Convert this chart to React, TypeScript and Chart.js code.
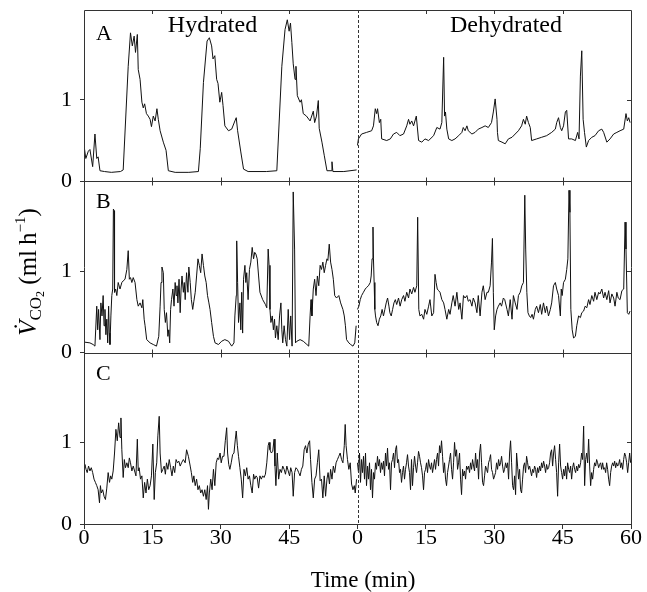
import { useEffect, useRef } from 'react';
import { Chart, registerables } from 'chart.js';

Chart.register(...registerables);

// ---------- labels / ticks ----------
const X_TICK_VALUES = [0, 15, 30, 45, 60, 75, 90, 105, 120];
const X_TICK_LABELS = ['0', '15', '30', '45', '0', '15', '30', '45', '60'];
const Y_TICKS = [0, 1];
const Y_MAX = 2.1;
const DEHYDRATED_OFFSET = 60; // dehydrated record starts at 60 on the shared axis
const PANEL_LETTERS = ['A', 'B', 'C'];
const CONDITION_LABELS = ['Hydrated', 'Dehydrated'];
const X_TITLE = 'Time (min)';

// ---------- data: [time (min), VCO2 (ml h-1)] ----------
const A_HYDRATED: [number, number][] = [
  [0, 0.44], [0.4, 0.28], [0.95, 0.37], [1.3, 0.39], [1.9, 0.18], [2.4, 0.58], [2.8, 0.28], [3.1, 0.3], [3.5, 0.13],
  [4.5, 0.12], [6, 0.11], [8, 0.12], [8.6, 0.14], [9.7, 1.41], [10.2, 1.82], [10.6, 1.66], [11.0, 1.78], [11.3, 1.58],
  [11.7, 1.8], [11.9, 1.37], [12.3, 1.25], [12.7, 0.97], [13.0, 0.9], [13.3, 0.95], [13.7, 0.83], [14.1, 0.8],
  [14.5, 0.76], [14.8, 0.67], [15.2, 0.8], [15.6, 0.74], [16.0, 0.89], [16.3, 0.76], [16.7, 0.62], [17.4, 0.48],
  [18.0, 0.38], [18.5, 0.13], [20, 0.11], [23, 0.11], [25.1, 0.12], [25.5, 0.4], [26.2, 1.21], [27.0, 1.72],
  [27.5, 1.76], [28.0, 1.66], [28.3, 1.5], [28.7, 1.54], [29.1, 1.25], [29.4, 1.2], [29.8, 0.97], [30.2, 1.09],
  [30.5, 0.93], [30.9, 0.68], [31.7, 0.62], [32.4, 0.64], [33.1, 0.74], [33.4, 0.78], [33.7, 0.62], [34.4, 0.36],
  [35.0, 0.15], [36, 0.12], [40, 0.12], [42.3, 0.13], [43.4, 1.41], [44.1, 1.86], [44.6, 1.98], [45.0, 1.84],
  [45.3, 1.94], [45.6, 1.7], [45.9, 1.44], [46.3, 1.25], [46.5, 1.41], [46.8, 1.05], [47.4, 0.97], [47.7, 1.0],
  [48.1, 0.83], [48.8, 0.8], [49.6, 0.74], [50.3, 0.86], [50.6, 0.72], [51.0, 0.8], [51.4, 0.99], [51.6, 0.65],
  [52.2, 0.48], [52.7, 0.32], [53.3, 0.13], [54.2, 0.13], [54.4, 0.24], [54.6, 0.12], [57, 0.12], [59.8, 0.14],
];

const A_DEHYDRATED: [number, number][] = [
  [0.0, 0.44], [0.2, 0.52], [0.9, 0.58], [2.0, 0.6], [3.1, 0.62], [3.5, 0.68], [3.9, 0.89], [4.2, 0.83], [4.4, 0.89],
  [4.8, 0.72], [5.1, 0.76], [5.3, 0.52], [6.4, 0.5], [7.2, 0.52], [7.9, 0.58], [8.6, 0.6], [9.3, 0.56], [10.1, 0.58],
  [10.8, 0.68], [11.2, 0.76], [11.5, 0.7], [11.9, 0.74], [12.3, 0.68], [12.9, 0.8], [13.4, 0.5], [14.1, 0.48],
  [14.8, 0.52], [15.6, 0.5], [16.7, 0.56], [17.4, 0.66], [18.1, 0.64], [18.5, 0.72], [18.9, 1.52], [19.1, 0.8],
  [19.3, 0.85], [19.6, 0.64], [20.0, 0.52], [20.7, 0.5], [21.4, 0.52], [22.2, 0.56], [22.9, 0.6], [23.2, 0.66],
  [23.6, 0.62], [24.0, 0.68], [24.3, 0.62], [25.1, 0.58], [25.8, 0.6], [26.5, 0.64], [27.3, 0.66], [28.0, 0.68],
  [28.7, 0.66], [29.4, 0.72], [29.8, 0.85], [30.2, 1.01], [30.6, 0.76], [30.7, 0.6], [30.9, 0.5], [31.7, 0.48],
  [32.4, 0.46], [33.1, 0.52], [33.9, 0.54], [34.6, 0.58], [35.3, 0.62], [36.0, 0.68], [36.4, 0.76], [36.8, 0.7],
  [37.1, 0.8], [37.5, 0.72], [37.9, 0.66], [38.2, 0.5], [39.3, 0.52], [40.4, 0.54], [41.5, 0.56], [42.6, 0.6],
  [43.4, 0.64], [43.7, 0.72], [44.1, 0.78], [44.5, 0.66], [44.8, 0.62], [45.2, 0.68], [45.6, 0.85], [45.9, 0.87],
  [46.3, 0.52], [47.0, 0.52], [47.8, 0.5], [48.3, 0.6], [48.6, 0.52], [48.9, 1.29], [49.2, 1.6], [49.5, 0.76],
  [49.8, 0.6], [50.2, 0.42], [50.7, 0.5], [51.4, 0.54], [52.1, 0.56], [52.9, 0.62], [53.6, 0.64], [54.0, 0.6],
  [54.7, 0.48], [55.4, 0.52], [56.2, 0.58], [56.9, 0.6], [57.6, 0.62], [58.4, 0.64], [58.9, 0.83], [59.2, 0.74],
  [59.5, 0.78], [59.8, 0.72],
];

const B_HYDRATED: [number, number][] = [
  [0, 0.13], [1.3, 0.12], [2.0, 0.1], [2.4, 0.08], [2.8, 0.57], [3.0, 0.28], [3.2, 0.53], [3.5, 0.16], [3.7, 0.61],
  [3.95, 0.45], [4.2, 0.7], [4.4, 0.33], [4.6, 0.53], [4.8, 0.22], [5.0, 0.41], [5.2, 0.12], [5.4, 0.57], [5.55, 0.24],
  [5.7, 0.1], [5.9, 0.45], [6.1, 0.7], [6.3, 0.78], [6.45, 1.76], [6.6, 1.74], [6.7, 0.74], [6.95, 0.78], [7.2, 0.7],
  [7.5, 0.86], [7.9, 0.78], [8.3, 0.86], [8.6, 0.88], [9.0, 0.9], [9.4, 1.02], [9.7, 1.25], [9.95, 0.9], [10.2, 0.92],
  [10.5, 0.86], [10.8, 0.92], [11.2, 0.86], [11.6, 0.65], [11.9, 0.57], [12.3, 0.61], [12.7, 0.55], [12.9, 0.65],
  [13.2, 0.41], [13.4, 0.33], [13.75, 0.16], [14.5, 0.12], [15.2, 0.1], [15.9, 0.08], [16.4, 0.2], [16.7, 0.57],
  [16.9, 0.86], [17.1, 1.05], [17.4, 0.98], [17.6, 0.53], [17.85, 0.37], [18.1, 0.49], [18.4, 0.2], [18.6, 0.28],
  [18.8, 0.12], [19.0, 0.53], [19.2, 0.65], [19.5, 0.78], [19.75, 0.57], [20.0, 0.86], [20.2, 0.7], [20.4, 0.82],
  [20.6, 0.61], [20.85, 0.9], [21.1, 0.49], [21.3, 0.78], [21.5, 0.94], [21.8, 0.74], [22.0, 0.86], [22.2, 0.65],
  [22.5, 0.98], [22.8, 0.74], [23.0, 1.05], [23.3, 0.86], [23.55, 0.65], [23.85, 0.53], [24.1, 0.63], [24.4, 0.74],
  [24.7, 0.94], [25.0, 1.15], [25.3, 1.07], [25.6, 0.98], [25.9, 1.21], [26.2, 1.07], [26.5, 0.94], [26.8, 0.86],
  [27.1, 0.7], [27.4, 0.61], [27.65, 0.53], [28.0, 0.37], [28.4, 0.2], [28.75, 0.12], [29.5, 0.1], [30.2, 0.14],
  [30.9, 0.16], [31.7, 0.14], [32.4, 0.08], [32.9, 0.12], [33.1, 0.45], [33.4, 0.7], [33.5, 1.37], [33.7, 0.86],
  [33.9, 0.37], [34.2, 0.61], [34.4, 0.28], [34.6, 0.74], [34.8, 0.24], [35.0, 0.9], [35.3, 1.07], [35.5, 0.86],
  [35.7, 0.98], [36.0, 0.65], [36.3, 1.02], [36.6, 1.11], [36.9, 1.29], [37.2, 1.15], [37.45, 1.23], [37.7, 1.21],
  [38.0, 1.15], [38.3, 0.94], [38.6, 0.74], [39.2, 0.65], [39.8, 0.59], [40.1, 0.55], [40.4, 1.27], [40.6, 1.07],
  [40.8, 0.53], [41.0, 0.37], [41.3, 0.45], [41.55, 0.28], [41.8, 0.41], [42.0, 0.18], [42.3, 0.33], [42.6, 0.16],
  [42.9, 0.45], [43.2, 0.61], [43.4, 0.28], [43.6, 0.12], [43.9, 0.33], [44.2, 0.16], [44.5, 0.08], [44.8, 0.53],
  [45.1, 0.16], [45.35, 0.45], [45.65, 0.08], [45.9, 1.97], [46.2, 1.27], [46.4, 0.12], [46.7, 0.14], [47.4, 0.16],
  [48.1, 0.14], [48.9, 0.1], [49.3, 0.08], [49.6, 0.45], [49.8, 0.65], [50.0, 0.45], [50.3, 0.78], [50.6, 0.9],
  [50.9, 0.7], [51.2, 0.94], [51.5, 0.82], [51.8, 1.07], [52.1, 1.02], [52.4, 1.11], [52.7, 0.98], [53.0, 1.07],
  [53.3, 1.15], [53.5, 1.13], [53.8, 1.33], [54.1, 1.11], [54.4, 1.02], [54.7, 0.9], [55.0, 0.7], [55.4, 0.67],
  [55.9, 0.7], [56.3, 0.61], [56.8, 0.53], [57.1, 0.45], [57.35, 0.33], [57.6, 0.16], [58.1, 0.12], [58.5, 0.1],
  [59.0, 0.08], [59.4, 0.12], [59.7, 0.33],
];

const B_DEHYDRATED: [number, number][] = [
  [0.0, 0.53], [0.3, 0.57], [0.6, 0.65], [0.9, 0.7], [1.3, 0.74], [1.7, 0.78], [2.0, 0.8], [2.4, 0.82], [2.8, 0.86],
  [3.0, 0.94], [3.2, 1.15], [3.4, 1.54], [3.5, 1.15], [3.65, 0.86], [3.8, 0.53], [3.95, 0.45], [4.2, 0.37], [4.5, 0.33],
  [4.8, 0.41], [5.1, 0.45], [5.4, 0.53], [5.7, 0.45], [6.0, 0.53], [6.3, 0.61], [6.6, 0.67], [6.9, 0.57], [7.1, 0.49],
  [7.4, 0.45], [7.7, 0.53], [8.0, 0.61], [8.3, 0.65], [8.6, 0.59], [9.0, 0.67], [9.35, 0.57], [9.7, 0.65], [10.1, 0.7],
  [10.4, 0.63], [10.8, 0.74], [11.2, 0.67], [11.5, 0.78], [11.9, 0.72], [12.3, 0.8], [12.6, 0.74], [13.0, 0.82],
  [13.2, 1.66], [13.45, 0.53], [13.7, 0.45], [14.1, 0.47], [14.5, 0.41], [14.8, 0.53], [15.2, 0.47], [15.6, 0.57],
  [15.9, 0.65], [16.3, 0.45], [16.7, 0.49], [17.0, 0.96], [17.25, 0.86], [17.5, 0.78], [17.8, 0.76], [18.1, 0.74],
  [18.5, 0.65], [18.9, 0.61], [19.2, 0.53], [19.6, 0.41], [20.0, 0.53], [20.3, 0.47], [20.7, 0.61], [21.0, 0.7],
  [21.4, 0.57], [21.8, 0.74], [22.2, 0.53], [22.5, 0.61], [22.9, 0.41], [23.25, 0.7], [23.6, 0.67], [24.0, 0.7],
  [24.3, 0.63], [24.7, 0.65], [25.1, 0.57], [25.4, 0.67], [25.8, 0.61], [26.2, 0.49], [26.5, 0.7], [26.9, 0.45],
  [27.3, 0.74], [27.6, 0.82], [28.0, 0.65], [28.4, 0.74], [28.7, 0.74], [29.1, 0.82], [29.4, 1.11], [29.6, 1.4],
  [29.8, 0.74], [30.0, 0.28], [30.3, 0.45], [30.6, 0.53], [30.9, 0.57], [31.3, 0.61], [31.6, 0.57], [32.0, 0.67],
  [32.3, 0.65], [32.8, 0.53], [33.1, 0.45], [33.5, 0.65], [33.9, 0.41], [34.2, 0.7], [34.6, 0.61], [35.0, 0.53],
  [35.3, 0.7], [35.7, 0.74], [36.05, 0.82], [36.4, 0.86], [36.7, 1.93], [36.9, 1.27], [37.15, 0.74], [37.4, 0.49],
  [37.7, 0.45], [38.0, 0.43], [38.3, 0.47], [38.6, 0.41], [39.0, 0.53], [39.3, 0.57], [39.7, 0.49], [40.1, 0.59],
  [40.4, 0.47], [40.8, 0.61], [41.2, 0.49], [41.5, 0.57], [41.9, 0.45], [42.3, 0.53], [42.6, 0.61], [43.0, 0.82],
  [43.4, 0.86], [43.7, 0.78], [44.1, 0.7], [44.5, 0.45], [44.7, 0.78], [44.9, 0.7], [45.2, 0.86], [45.6, 0.9],
  [45.9, 1.02], [46.15, 1.15], [46.4, 1.99], [46.6, 1.72], [46.8, 0.53], [47.1, 0.28], [47.4, 0.18], [47.8, 0.2],
  [48.1, 0.33], [48.5, 0.45], [48.9, 0.43], [49.2, 0.49], [49.6, 0.51], [49.95, 0.57], [50.3, 0.55], [50.7, 0.65],
  [51.0, 0.59], [51.4, 0.7], [51.8, 0.63], [52.1, 0.74], [52.5, 0.65], [52.9, 0.74], [53.2, 0.72], [53.6, 0.78],
  [54.0, 0.67], [54.3, 0.74], [54.7, 0.65], [55.1, 0.76], [55.4, 0.61], [55.8, 0.72], [56.2, 0.67], [56.5, 0.57],
  [56.9, 0.74], [57.2, 0.67], [57.6, 0.65], [58.0, 0.76], [58.4, 0.78], [58.7, 1.6], [58.9, 1.27], [59.2, 0.49],
  [59.5, 0.47], [59.8, 0.51],
];

const C_HYDRATED: [number, number][] = [
  [0.0, 0.71], [0.2, 0.73], [0.45, 0.67], [0.7, 0.63], [1.0, 0.71], [1.3, 0.65], [1.6, 0.69], [1.9, 0.63], [2.2, 0.55],
  [2.5, 0.51], [2.8, 0.47], [3.1, 0.42], [3.4, 0.26], [3.6, 0.47], [3.8, 0.38], [4.1, 0.42], [4.4, 0.34], [4.7, 0.3],
  [5.0, 0.44], [5.3, 0.63], [5.6, 0.51], [5.85, 0.59], [6.1, 0.55], [6.4, 0.65], [6.7, 0.87], [7.0, 1.16], [7.3, 1.02],
  [7.6, 1.24], [7.9, 1.06], [8.1, 1.3], [8.3, 0.91], [8.6, 0.57], [8.85, 0.79], [9.1, 0.69], [9.4, 0.75], [9.7, 0.69],
  [9.95, 0.81], [10.2, 0.75], [10.5, 0.65], [10.8, 0.71], [11.1, 0.65], [11.4, 0.59], [11.7, 1.04], [11.9, 0.65],
  [12.1, 0.69], [12.4, 0.55], [12.7, 0.59], [13.0, 0.32], [13.3, 0.51], [13.6, 0.38], [13.9, 0.55], [14.2, 0.42],
  [14.5, 0.47], [14.8, 0.59], [15.1, 0.98], [15.4, 0.3], [15.65, 0.63], [15.95, 0.75], [16.2, 1.08], [16.5, 1.32],
  [16.7, 0.87], [17.0, 0.63], [17.3, 0.67], [17.6, 0.71], [17.85, 0.61], [18.1, 0.75], [18.4, 0.67], [18.7, 0.79],
  [19.0, 0.69], [19.3, 0.59], [19.6, 0.71], [19.9, 0.63], [20.2, 0.79], [20.5, 0.75], [20.8, 0.77], [21.1, 0.71],
  [21.4, 0.75], [21.8, 0.79], [22.2, 0.75], [22.5, 0.91], [22.9, 0.83], [23.3, 0.71], [23.55, 0.63], [23.85, 0.51],
  [24.1, 0.59], [24.4, 0.47], [24.7, 0.55], [25.0, 0.42], [25.3, 0.47], [25.6, 0.38], [25.9, 0.42], [26.2, 0.34],
  [26.5, 0.42], [26.8, 0.3], [27.1, 0.47], [27.3, 0.18], [27.5, 0.38], [27.8, 0.55], [28.1, 0.42], [28.4, 0.67],
  [28.7, 0.47], [29.0, 0.75], [29.3, 0.81], [29.55, 0.79], [29.85, 0.87], [30.1, 0.75], [30.4, 0.83], [30.7, 0.83],
  [31.0, 1.02], [31.3, 1.18], [31.5, 0.87], [31.75, 0.73], [32.0, 0.67], [32.3, 0.75], [32.6, 0.85], [32.9, 0.87],
  [33.2, 1.04], [33.4, 1.14], [33.65, 0.96], [33.9, 0.83], [34.2, 0.69], [34.5, 0.55], [34.8, 0.32], [35.1, 0.67],
  [35.4, 0.59], [35.7, 0.69], [36.0, 0.55], [36.3, 0.59], [36.6, 0.47], [36.9, 0.38], [37.2, 0.61], [37.45, 0.55],
  [37.75, 0.59], [38.0, 0.57], [38.3, 0.44], [38.6, 0.59], [38.9, 0.55], [39.2, 0.59], [39.5, 0.57], [39.8, 0.61],
  [40.1, 0.75], [40.4, 0.96], [40.6, 1.0], [40.8, 0.91], [41.1, 0.87], [41.4, 0.89], [41.7, 1.04], [41.9, 0.71],
  [42.1, 0.47], [42.4, 0.87], [42.7, 0.55], [43.0, 0.67], [43.3, 0.63], [43.6, 0.71], [43.9, 0.67], [44.2, 0.61],
  [44.5, 0.71], [44.8, 0.65], [45.1, 0.59], [45.35, 0.69], [45.65, 0.63], [45.9, 0.34], [46.2, 0.63], [46.5, 0.69],
  [46.8, 0.67], [47.1, 0.63], [47.4, 0.59], [47.7, 0.67], [48.0, 0.71], [48.3, 0.91], [48.6, 0.96], [48.9, 0.87],
  [49.2, 0.98], [49.5, 1.02], [49.7, 0.79], [50.0, 0.51], [50.3, 0.32], [50.6, 0.55], [50.9, 0.59], [51.2, 0.75],
  [51.5, 0.91], [51.8, 0.53], [52.1, 0.55], [52.4, 0.32], [52.7, 0.59], [53.0, 0.34], [53.3, 0.55], [53.55, 0.63],
  [53.85, 0.49], [54.1, 0.67], [54.4, 0.55], [54.7, 0.71], [55.0, 0.63], [55.3, 0.75], [55.6, 0.79], [55.9, 0.83],
  [56.2, 0.87], [56.5, 0.79], [56.8, 0.75], [57.1, 0.96], [57.3, 1.22], [57.5, 0.96], [57.8, 0.79], [58.1, 0.67],
  [58.4, 0.75], [58.7, 0.49], [59.0, 0.42], [59.3, 0.47], [59.5, 0.38], [59.8, 0.55],
];

// dehydrated C record sampled at a fixed interval (min) from t = 0
const C_DEHYDRATED_STEP = 0.2195;
const C_DEHYDRATED: number[] = [
  0.75, 0.63, 0.87, 0.51, 0.79, 0.63, 0.83, 0.55, 0.87, 0.47, 0.71, 0.55, 0.75, 0.42, 0.67, 0.32, 0.63, 0.55, 0.75, 0.67,
  0.83, 0.71, 0.79, 0.63, 0.75, 0.67, 0.77, 0.59, 0.87, 0.71, 0.93, 0.67, 0.75, 0.42, 0.75, 0.79, 0.87, 0.69, 0.91, 0.96,
  0.75, 0.79, 0.63, 0.67, 0.51, 0.63, 0.71, 0.55, 0.67, 0.75, 0.85, 0.71, 0.63, 0.42, 0.79, 0.47, 0.69, 0.83, 0.71, 0.63,
  0.75, 0.89, 0.83, 0.75, 0.69, 0.59, 0.42, 0.63, 0.67, 0.75, 0.63, 0.79, 0.71, 0.67, 0.75, 0.63, 0.71, 0.79, 0.67, 0.79,
  0.87, 0.71, 0.96, 0.87, 1.02, 0.83, 0.63, 0.75, 0.55, 0.47, 0.63, 0.71, 0.79, 0.87, 0.67, 0.55, 0.75, 1.0, 0.83, 0.91,
  0.67, 0.75, 0.87, 0.55, 0.36, 0.67, 0.59, 0.65, 0.55, 0.71, 0.67, 0.71, 0.63, 0.75, 0.67, 0.79, 0.71, 0.65, 0.87, 0.69,
  0.79, 0.55, 0.87, 0.98, 0.75, 0.51, 0.47, 0.59, 0.71, 0.67, 0.63, 0.75, 0.79, 0.85, 0.67, 0.63, 0.55, 0.59, 0.63, 0.75,
  0.67, 0.79, 0.71, 0.75, 0.83, 0.71, 0.63, 0.67, 0.75, 0.69, 0.75, 0.55, 0.87, 1.02, 0.75, 0.47, 0.42, 0.59, 0.36, 0.87,
  0.71, 0.55, 0.67, 0.42, 0.38, 0.55, 0.71, 0.75, 0.63, 0.83, 0.75, 0.67, 0.71, 0.65, 0.59, 0.67, 0.63, 0.71, 0.67, 0.57,
  0.69, 0.63, 0.71, 0.65, 0.75, 0.69, 0.77, 0.71, 0.63, 0.73, 0.67, 0.69, 0.75, 0.87, 0.91, 0.71, 0.87, 0.96, 0.79, 0.63,
  0.34, 0.75, 0.98, 0.71, 0.63, 0.55, 0.67, 0.59, 0.71, 0.55, 0.75, 0.67, 0.63, 0.71, 0.55, 0.69, 0.75, 0.67, 0.63, 0.71,
  0.65, 0.73, 0.69, 0.75, 0.87, 0.79, 1.2, 0.47, 0.79, 0.87, 0.75, 1.04, 0.71, 0.47, 0.63, 0.55, 0.67, 0.75, 0.71, 0.79,
  0.75, 0.69, 0.73, 0.75, 0.67, 0.75, 0.67, 0.69, 0.63, 0.75, 0.67, 0.55, 0.47, 0.63, 0.71, 0.75, 0.71, 0.77, 0.69, 0.75,
  0.71, 0.73, 0.79, 0.69, 0.75, 0.67, 0.79, 0.87, 0.83, 0.75, 0.63, 0.75, 0.87, 0.75,
];

const SERIF = '"Liberation Serif", "Times New Roman", "DejaVu Serif", serif';
const INK = '#111';
const FRAME = '#333';

type Pt = { x: number; y: number };
const toPts = (arr: [number, number][], offset: number): Pt[] => arr.map(([t, v]) => ({ x: t + offset, y: v }));
const sampled = (vals: number[], step: number, offset: number): Pt[] =>
  vals.map((v, i) => ({ x: offset + i * step, y: v }));

const yAxis = (weight: number) => ({
  type: 'linear' as const,
  position: 'left' as const,
  stack: 'panels',
  stackWeight: 1,
  weight,
  min: 0,
  max: Y_MAX,
  afterBuildTicks: (s: any) => {
    s.ticks = Y_TICKS.map((v) => ({ value: v }));
  },
  afterFit: (s: any) => {
    s.width = 84;
    s.paddingTop = 0;
    s.paddingBottom = 0;
  },
  ticks: {
    font: { family: SERIF, size: 22, lineHeight: 1 },
    color: '#000',
    padding: 8,
    callback: (v: any) => String(v),
  },
  grid: { drawOnChartArea: false, drawTicks: true, tickLength: 4, color: FRAME, lineWidth: 1 },
  border: { display: false },
});

const framePlugin = {
  id: 'panelFrame',
  afterDraw(chart: any) {
    const { ctx, chartArea: ca, scales } = chart;
    const x = scales.x;
    const ys = [scales.yA, scales.yB, scales.yC];
    const r = (v: number) => Math.round(v) + 0.5;
    ctx.save();
    ctx.strokeStyle = FRAME;
    ctx.lineWidth = 1;
    // outer frame
    ctx.beginPath();
    ctx.rect(r(ca.left), r(ca.top), Math.round(ca.right) - Math.round(ca.left), Math.round(ca.bottom) - Math.round(ca.top));
    ctx.stroke();
    // panel separators with small ticks on both sides
    ctx.beginPath();
    for (let i = 0; i < 2; i++) {
      const sy = r(ys[i].getPixelForValue(0));
      ctx.moveTo(ca.left, sy);
      ctx.lineTo(ca.right, sy);
      for (const tv of X_TICK_VALUES) {
        if (tv === 0 || tv === 60 || tv === 120) continue;
        const tx = r(x.getPixelForValue(tv));
        ctx.moveTo(tx, sy - 4);
        ctx.lineTo(tx, sy + 4);
      }
    }
    // inner ticks on the top edge and right edge at value 1
    for (const tv of X_TICK_VALUES) {
      if (tv === 0 || tv === 60 || tv === 120) continue;
      const tx = r(x.getPixelForValue(tv));
      ctx.moveTo(tx, ca.top);
      ctx.lineTo(tx, ca.top + 4);
    }
    for (const y of ys) {
      const py = r(y.getPixelForValue(1));
      ctx.moveTo(ca.right - 4, py);
      ctx.lineTo(ca.right, py);
    }
    ctx.stroke();
    // dashed divider between hydrated / dehydrated
    const xm = r(x.getPixelForValue(DEHYDRATED_OFFSET));
    ctx.setLineDash([3, 2]);
    ctx.beginPath();
    ctx.moveTo(xm, ca.top);
    ctx.lineTo(xm, ca.bottom);
    ctx.stroke();
    ctx.setLineDash([]);

    // texts
    ctx.fillStyle = '#000';
    ctx.textBaseline = 'alphabetic';
    ctx.textAlign = 'center';
    ctx.font = `24px ${SERIF}`;
    ctx.fillText(CONDITION_LABELS[0], ca.left + 128.5, ca.top + 22);
    ctx.fillText(CONDITION_LABELS[1], ca.left + 422, ca.top + 22);
    ctx.font = `23px ${SERIF}`;
    ctx.fillText(X_TITLE, 363, 587);
    ctx.textAlign = 'left';
    ctx.font = `22px ${SERIF}`;
    const letterOffsets = [29.5, 26.5, 27];
    ys.forEach((y, i) => ctx.fillText(PANEL_LETTERS[i], ca.left + 12, y.top + letterOffsets[i]));

    // rotated y title: V̇CO2 (ml h−1)
    const parts = [
      { text: 'V', font: `italic 25px ${SERIF}`, dy: 0 },
      { text: 'CO', font: `17px ${SERIF}`, dy: 5 },
      { text: '2', font: `12px ${SERIF}`, dy: 8 },
      { text: ' (ml\u2009h', font: `25px ${SERIF}`, dy: 0 },
      { text: '\u22121', font: `15px ${SERIF}`, dy: -11 },
      { text: ')', font: `25px ${SERIF}`, dy: 0 },
    ];
    let total = 0;
    const widths = parts.map((p) => {
      ctx.font = p.font;
      const w = ctx.measureText(p.text).width;
      total += w;
      return w;
    });
    ctx.save();
    ctx.translate(36, 272);
    ctx.rotate(-Math.PI / 2);
    ctx.textAlign = 'left';
    let u = -total / 2;
    parts.forEach((p, i) => {
      ctx.font = p.font;
      ctx.fillText(p.text, u, p.dy);
      if (i === 0) {
        ctx.font = `25px ${SERIF}`;
        ctx.textAlign = 'center';
        ctx.fillText('\u02D9', u + widths[0] * 0.62, -5);
        ctx.textAlign = 'left';
      }
      u += widths[i];
    });
    ctx.restore();
    ctx.restore();
  },
};

export default function App() {
  const ref = useRef<HTMLCanvasElement | null>(null);
  useEffect(() => {
    if (!ref.current) return;
    const line = (data: Pt[], yAxisID: string) => ({
      data,
      yAxisID,
      xAxisID: 'x',
      borderColor: INK,
      borderWidth: 1,
      pointRadius: 0,
      fill: false,
      tension: 0,
    });
    const chart = new Chart(ref.current, {
      type: 'line',
      data: {
        datasets: [
          line(toPts(A_HYDRATED, 0), 'yA'),
          line(toPts(A_DEHYDRATED, DEHYDRATED_OFFSET), 'yA'),
          line(toPts(B_HYDRATED, 0), 'yB'),
          line(toPts(B_DEHYDRATED, DEHYDRATED_OFFSET), 'yB'),
          line(toPts(C_HYDRATED, 0), 'yC'),
          line(sampled(C_DEHYDRATED, C_DEHYDRATED_STEP, DEHYDRATED_OFFSET), 'yC'),
        ] as any,
      },
      options: {
        responsive: false,
        devicePixelRatio: 1,
        animation: false,
        parsing: false,
        events: [],
        layout: { padding: { left: 0, right: 16, top: 10, bottom: 0 } },
        plugins: { legend: { display: false }, tooltip: { enabled: false }, title: { display: false } },
        scales: {
          x: {
            type: 'linear',
            position: 'bottom',
            min: 0,
            max: 120,
            afterBuildTicks: (s: any) => {
              s.ticks = X_TICK_VALUES.map((v) => ({ value: v }));
            },
            afterFit: (s: any) => {
              s.height = 68;
            },
            ticks: {
              autoSkip: false,
              maxRotation: 0,
              font: { family: SERIF, size: 22, lineHeight: 1 },
              color: '#000',
              padding: -2,
              callback: (_v: any, i: number) => X_TICK_LABELS[i],
            },
            grid: { drawOnChartArea: false, drawTicks: true, tickLength: 5, color: FRAME },
            border: { display: false },
          },
          yA: yAxis(3),
          yB: yAxis(2),
          yC: yAxis(1),
        } as any,
      },
      plugins: [framePlugin],
    });
    return () => chart.destroy();
  }, []);
  return (
    <div style={{ position: 'absolute', left: 0, top: 0, width: 647, height: 592, background: '#fff' }}>
      <canvas ref={ref} width={647} height={592} style={{ display: 'block' }} />
    </div>
  );
}
